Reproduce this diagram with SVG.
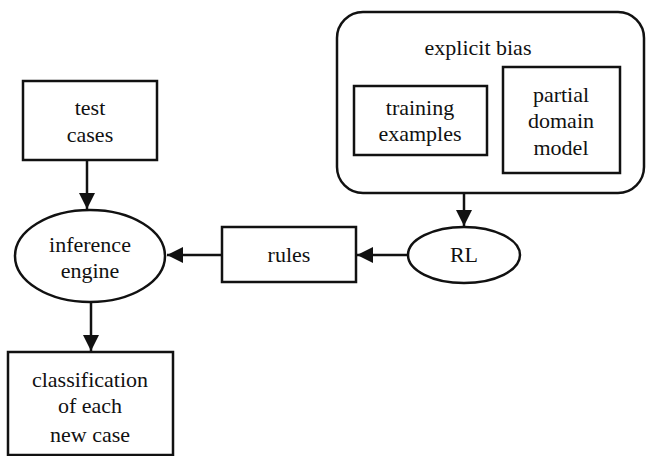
<svg xmlns="http://www.w3.org/2000/svg" width="647" height="456" viewBox="0 0 647 456">
<style>
.b{fill:#fff;stroke:#111;stroke-width:2.5}
.c{stroke:#111;stroke-width:2.5;fill:none}
</style>
<defs>
<marker id="ah" viewBox="0 0 10 10" refX="10" refY="5" markerWidth="16" markerHeight="16" markerUnits="userSpaceOnUse" orient="auto">
<path d="M0,0L10,5L0,10Z" fill="#111"/>
</marker>
</defs>
<rect width="647" height="456" fill="#fff"/>
<g id="bias">
<rect class="b" x="337" y="12" width="307" height="181" rx="26"/>
<text x="478" y="55" font-family="Liberation Serif" font-size="22" fill="#111" text-anchor="middle">explicit bias</text>
</g>
<g id="training">
<rect class="b" x="354" y="86" width="133" height="69"/>
<text x="420" y="115" font-family="Liberation Serif" font-size="22" fill="#111" text-anchor="middle">training</text>
<text x="420" y="141" font-family="Liberation Serif" font-size="22" fill="#111" text-anchor="middle">examples</text>
</g>
<g id="domain">
<rect class="b" x="503" y="67" width="117" height="106"/>
<text x="561" y="102" font-family="Liberation Serif" font-size="22" fill="#111" text-anchor="middle">partial</text>
<text x="561" y="128" font-family="Liberation Serif" font-size="22" fill="#111" text-anchor="middle">domain</text>
<text x="561" y="155" font-family="Liberation Serif" font-size="22" fill="#111" text-anchor="middle">model</text>
</g>
<g id="test">
<rect class="b" x="23" y="81" width="134" height="79"/>
<text x="90" y="115" font-family="Liberation Serif" font-size="22" fill="#111" text-anchor="middle">test</text>
<text x="90" y="142" font-family="Liberation Serif" font-size="22" fill="#111" text-anchor="middle">cases</text>
</g>
<g id="engine">
<ellipse class="b" cx="90" cy="256" rx="75" ry="46"/>
<text x="90" y="252" font-family="Liberation Serif" font-size="22" fill="#111" text-anchor="middle">inference</text>
<text x="90" y="278" font-family="Liberation Serif" font-size="22" fill="#111" text-anchor="middle">engine</text>
</g>
<g id="classification">
<rect class="b" x="8" y="352" width="165" height="103"/>
<text x="90" y="387" font-family="Liberation Serif" font-size="22" fill="#111" text-anchor="middle">classification</text>
<text x="90" y="413" font-family="Liberation Serif" font-size="22" fill="#111" text-anchor="middle">of each</text>
<text x="90" y="442" font-family="Liberation Serif" font-size="22" fill="#111" text-anchor="middle">new case</text>
</g>
<g id="rules">
<rect class="b" x="222" y="227" width="134" height="55"/>
<text x="289" y="262" font-family="Liberation Serif" font-size="22" fill="#111" text-anchor="middle">rules</text>
</g>
<g id="RL">
<ellipse class="b" cx="464" cy="255" rx="56" ry="28"/>
<text x="464" y="262" font-family="Liberation Serif" font-size="22" fill="#111" text-anchor="middle">RL</text>
</g>
<g id="connectors">
<line class="c" x1="87" y1="160" x2="87" y2="209" marker-end="url(#ah)"/>
<line class="c" x1="91" y1="302" x2="91" y2="351" marker-end="url(#ah)"/>
<line class="c" x1="222" y1="255" x2="167" y2="255" marker-end="url(#ah)"/>
<line class="c" x1="408" y1="255" x2="357" y2="255" marker-end="url(#ah)"/>
<line class="c" x1="464" y1="193" x2="464" y2="226" marker-end="url(#ah)"/>
</g>
</svg>
